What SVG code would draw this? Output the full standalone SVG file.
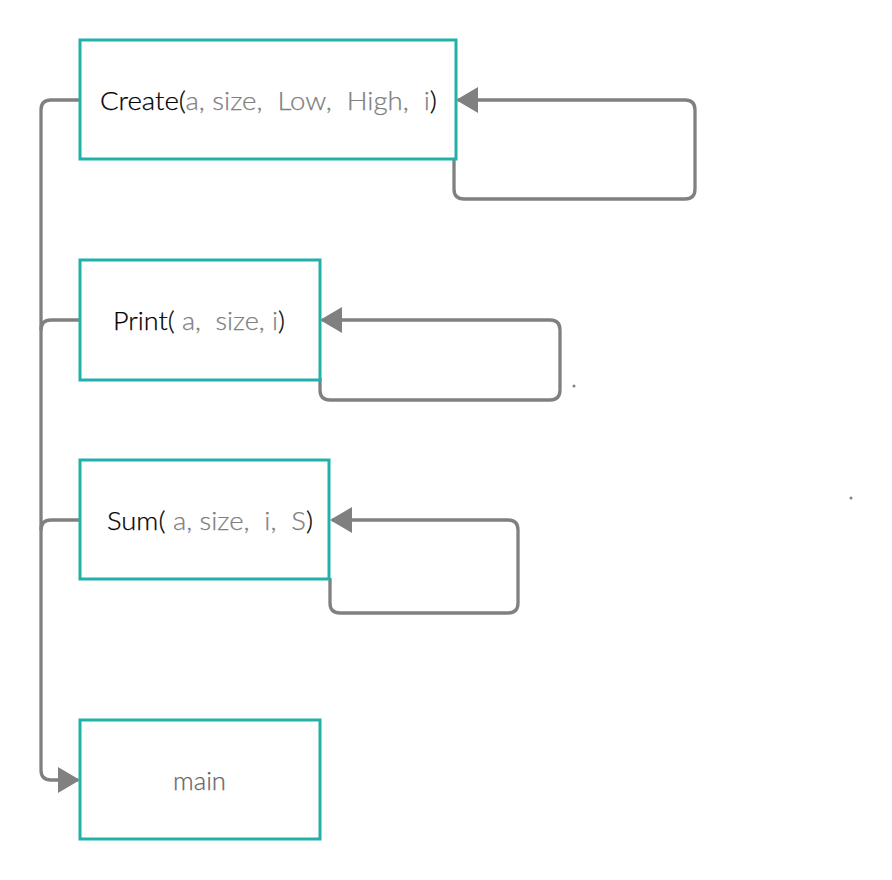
<svg xmlns="http://www.w3.org/2000/svg" width="892" height="880" viewBox="0 0 892 880">
<style>
.box{fill:#fff;stroke:#22b1aa;stroke-width:3}
.lbl{font-family:Lato,"Liberation Sans",sans-serif;font-size:25.5px;font-weight:300;fill:#000;stroke:#000;stroke-width:0.25;white-space:pre}
.g{fill:#808080;stroke:#808080}
.conn{fill:none;stroke:#808080;stroke-width:3.3}
</style>
<defs>
<marker id="arr" viewBox="0 0 22 26" refX="20" refY="13" markerWidth="22" markerHeight="26" markerUnits="userSpaceOnUse" orient="auto">
<path d="M0,0 L22,13 L0,26 z" fill="#808080"/>
</marker>
</defs>
<rect width="892" height="880" fill="#fff"/>
<g id="connectors">
<path class="conn" d="M80,100 H51 Q41,100 41,110 V770 Q41,780 51,780 H78" marker-end="url(#arr)"/>
<path class="conn" d="M80,320 H51 Q41,320 41,330"/>
<path class="conn" d="M80,520 H51 Q41,520 41,530"/>
<path class="conn" d="M454,106 V189 Q454,199 464,199 H685 Q695,199 695,189 V110 Q695,100 685,100 H458" marker-end="url(#arr)"/>
<path class="conn" d="M320,378 V390 Q320,400 330,400 H550 Q560,400 560,390 V330 Q560,320 550,320 H322" marker-end="url(#arr)"/>
<path class="conn" d="M330,578 V603 Q330,613 340,613 H508 Q518,613 518,603 V530 Q518,520 508,520 H332" marker-end="url(#arr)"/>
</g>
<g id="create">
<rect class="box" x="80" y="40" width="376" height="119"/>
<text class="lbl" x="100" y="110" textLength="337" lengthAdjust="spacingAndGlyphs">Create(<tspan class="g">a, size,  Low,  High,  i</tspan>)</text>
</g>
<g id="print">
<rect class="box" x="80" y="260" width="240" height="120"/>
<text class="lbl" x="113" y="330" textLength="172" lengthAdjust="spacingAndGlyphs">Print(<tspan class="g"> a,  size, i</tspan>)</text>
</g>
<g id="sum">
<rect class="box" x="80" y="460" width="249" height="119"/>
<text class="lbl" x="107" y="530" textLength="206" lengthAdjust="spacingAndGlyphs">Sum(<tspan class="g"> a, size,  i,  S</tspan>)</text>
</g>
<g id="main">
<rect class="box" x="80" y="720" width="240" height="119"/>
<text class="lbl" x="173" y="790" textLength="53" lengthAdjust="spacingAndGlyphs" style="fill:#666;stroke:#666">main</text>
</g>
<circle cx="574" cy="386" r="1.5" fill="#808080"/>
<circle cx="851" cy="498" r="1.5" fill="#808080"/>
</svg>
